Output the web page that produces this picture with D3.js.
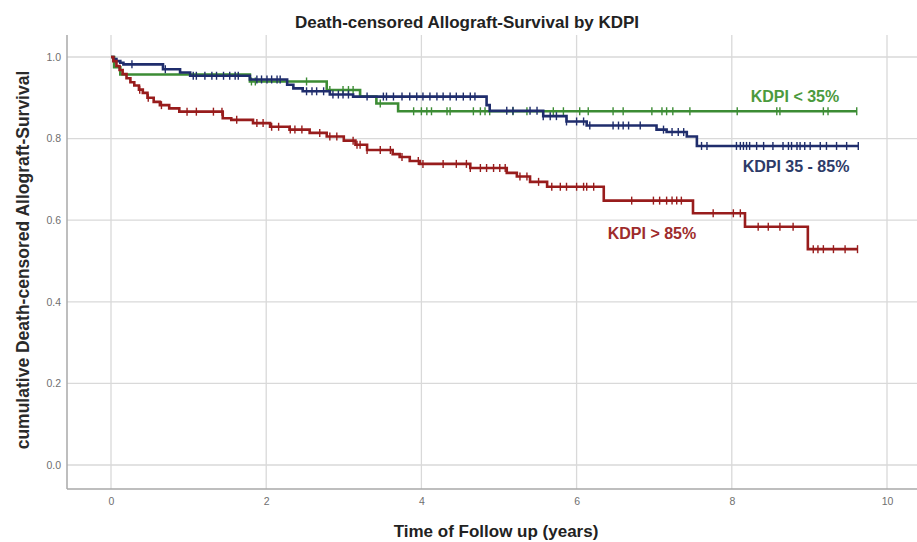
<!DOCTYPE html>
<html>
<head>
<meta charset="utf-8">
<script src="https://cdn.jsdelivr.net/npm/d3@7"></script>
<style>
  body { margin: 0; background: #fff; }
  text { font-family: "Liberation Sans", Arial, sans-serif; }
</style>
</head>
<body>
<div id="chart"></div>
<script>
/* axis ticks */
var xTicks = [0, 2, 4, 6, 8, 10]
var yTicks = [0, 0.2, 0.4, 0.6, 0.8, 1.0]

/* KDPI < 35% : event times (years) and survival after each event */
var lowTimes = [0, 0.04, 0.12, 1.79, 2.78, 3.21, 3.42, 3.70]
var lowSurv  = [1, 0.975, 0.957, 0.940, 0.919, 0.903, 0.886, 0.867]
var lowEnd = 9.61
var lowCensor = [1.81, 1.86, 2.52, 2.82, 2.99, 3.06, 3.12, 3.47, 3.90, 4.00, 4.07, 4.13, 4.33, 4.37,
  4.67, 4.76, 4.82, 4.88, 5.18, 5.36, 5.70, 5.83, 6.04, 6.15, 6.47, 6.60, 6.97, 7.10, 7.16, 7.24,
  7.46, 8.07, 8.58, 8.62, 9.18, 9.24, 9.61]

/* KDPI 35 - 85% */
var midTimes = [0, 0.03, 0.07, 0.12, 0.16, 0.67, 0.89, 1.02, 1.79, 2.27, 2.35, 2.47, 2.82, 3.12,
  4.84, 4.88, 5.57, 5.87, 6.13, 7.03, 7.16, 7.42, 7.55]
var midSurv  = [1, 0.995, 0.990, 0.986, 0.982, 0.970, 0.962, 0.954, 0.945, 0.932, 0.923, 0.916,
  0.908, 0.903, 0.882, 0.868, 0.855, 0.842, 0.832, 0.822, 0.816, 0.805, 0.782]
var midEnd = 9.63
var midCensor = [0.27, 0.70, 1.06, 1.10, 1.21, 1.30, 1.36, 1.45, 1.53, 1.60, 1.64, 1.88, 1.94, 2.01,
  2.07, 2.14, 2.18, 2.52, 2.59, 2.65, 2.74, 2.86, 2.93, 2.99, 3.06, 3.30, 3.51, 3.55, 3.64, 3.75,
  3.85, 3.94, 4.02, 4.11, 4.20, 4.28, 4.37, 4.45, 4.54, 4.63, 4.69, 5.10, 5.18, 5.40, 5.49, 5.57,
  5.66, 5.74, 5.87, 6.00, 6.09, 6.17, 6.47, 6.54, 6.60, 6.67, 6.82, 7.12, 7.23, 7.31, 7.38, 7.61,
  7.68, 8.06, 8.11, 8.15, 8.19, 8.23, 8.32, 8.41, 8.53, 8.66, 8.73, 8.77, 8.84, 8.88, 8.94, 9.01,
  9.14, 9.22, 9.35, 9.48, 9.63]

/* KDPI > 85% */
var highTimes = [0, 0.03, 0.07, 0.11, 0.15, 0.20, 0.25, 0.30, 0.36, 0.41, 0.47, 0.55, 0.63, 0.75,
  0.88, 1.44, 1.55, 1.83, 2.05, 2.30, 2.56, 2.78, 3.00, 3.15, 3.30, 3.63, 3.72, 3.85, 3.98, 4.63,
  5.10, 5.23, 5.40, 5.62, 6.35, 7.50, 8.17, 8.98]
var highSurv  = [1, 0.990, 0.978, 0.968, 0.958, 0.948, 0.938, 0.930, 0.920, 0.912, 0.900, 0.890,
  0.882, 0.874, 0.866, 0.850, 0.846, 0.838, 0.829, 0.822, 0.814, 0.805, 0.795, 0.785, 0.772,
  0.762, 0.755, 0.745, 0.738, 0.728, 0.716, 0.707, 0.694, 0.682, 0.648, 0.617, 0.584, 0.529]
var highEnd = 9.62
var highCensor = [0.37, 0.48, 0.65, 0.98, 1.10, 1.32, 1.43, 1.62, 1.88, 1.96, 2.07, 2.16, 2.31,
  2.37, 2.46, 2.69, 2.82, 2.91, 3.12, 3.17, 3.21, 3.30, 3.47, 3.60, 3.75, 3.96, 4.02, 4.28, 4.45,
  4.58, 4.63, 4.76, 4.84, 4.93, 5.01, 5.08, 5.27, 5.36, 5.51, 5.68, 5.79, 5.87, 6.00, 6.09, 6.13,
  6.22, 6.71, 6.99, 7.07, 7.16, 7.23, 7.29, 7.35, 7.76, 8.02, 8.11, 8.34, 8.47, 8.62, 8.79, 9.05,
  9.11, 9.18, 9.31, 9.46, 9.62]

var seriesNames = ["KDPI < 35%", "KDPI 35 - 85%", "KDPI > 85%"]
var seriesColors = ["#3c8c34", "#1f2d6c", "#981c1c"]
var labelColors = ["#4b9a3d", "#2d3b68", "#9e2c2c"]

/* layout */
var layout = {
  width: 917, height: 542,
  frameLeft: 67, frameTop: 35, frameBottom: 489, frameRight: 917
}

var x = d3.scaleLinear().domain([0, 10]).range([111, 887])
var y = d3.scaleLinear().domain([0, 1]).range([465, 57])

var svg = d3.select("#chart").append("svg")
  .attr("width", layout.width)
  .attr("height", layout.height)

/* grid */
svg.append("g").selectAll("line")
  .data(yTicks).enter().append("line")
  .attr("x1", layout.frameLeft).attr("x2", layout.frameRight)
  .attr("y1", function(d) { return y(d) }).attr("y2", function(d) { return y(d) })
  .style("stroke", "#d9d9d9").style("stroke-width", 1.3)

svg.append("g").selectAll("line")
  .data(xTicks).enter().append("line")
  .attr("y1", layout.frameTop).attr("y2", layout.frameBottom)
  .attr("x1", function(d) { return x(d) }).attr("x2", function(d) { return x(d) })
  .style("stroke", "#d9d9d9").style("stroke-width", 1.3)

/* frame */
svg.append("line")
  .attr("x1", layout.frameLeft).attr("x2", layout.frameLeft)
  .attr("y1", layout.frameTop).attr("y2", layout.frameBottom)
  .style("stroke", "#a8a8a8").style("stroke-width", 1.5)
svg.append("line")
  .attr("x1", layout.frameLeft).attr("x2", layout.frameRight)
  .attr("y1", layout.frameBottom).attr("y2", layout.frameBottom)
  .style("stroke", "#a8a8a8").style("stroke-width", 1.5)

/* tick labels via d3 axis */
var xAxis = d3.axisBottom(x).tickValues(xTicks).tickSize(0).tickPadding(0)
  .tickFormat(d3.format("d"))
svg.append("g")
  .attr("transform", "translate(0," + (layout.frameBottom + 9) + ")")
  .call(xAxis)
  .call(function(g) { g.select(".domain").remove() })
  .selectAll("text")
  .style("font-size", "10.5px").style("fill", "#6f6f6f")

var yAxis = d3.axisLeft(y).tickValues(yTicks).tickSize(0).tickPadding(0)
  .tickFormat(d3.format(".1f"))
svg.append("g")
  .attr("transform", "translate(" + (layout.frameLeft - 6) + ",0)")
  .call(yAxis)
  .call(function(g) { g.select(".domain").remove() })
  .selectAll("text")
  .style("font-size", "10.5px").style("fill", "#6f6f6f")

/* titles */
svg.append("text")
  .attr("x", 467).attr("y", 28)
  .attr("text-anchor", "middle")
  .style("font-size", "17px").style("font-weight", "bold").style("fill", "#222")
  .text("Death-censored Allograft-Survival by KDPI")

svg.append("text")
  .attr("x", 496).attr("y", 537)
  .attr("text-anchor", "middle")
  .style("font-size", "17px").style("font-weight", "bold").style("fill", "#222")
  .text("Time of Follow up (years)")

svg.append("text")
  .attr("transform", "translate(29,260) rotate(-90)")
  .attr("text-anchor", "middle")
  .style("font-size", "17.5px").style("font-weight", "bold").style("fill", "#2a2a2a")
  .text("cumulative Death-censored Allograft-Survival")

/* survival curves */
var allSeries = [
  { times: lowTimes, surv: lowSurv, end: lowEnd, censor: lowCensor },
  { times: midTimes, surv: midSurv, end: midEnd, censor: midCensor },
  { times: highTimes, surv: highSurv, end: highEnd, censor: highCensor }
]

var stepLine = d3.line()
  .x(function(d) { return x(d[0]) })
  .y(function(d) { return y(d[1]) })
  .curve(d3.curveStepAfter)

function survAt(s, t) {
  var i = d3.bisectRight(s.times, t) - 1
  return s.surv[Math.max(i, 0)]
}

allSeries.forEach(function(s, k) {
  var pts = s.times.map(function(t, i) { return [t, s.surv[i]] })
  pts.push([s.end, s.surv[s.surv.length - 1]])

  var g = svg.append("g").attr("class", "curve")
  g.append("path")
    .attr("d", stepLine(pts))
    .attr("fill", "none")
    .style("stroke", seriesColors[k])
    .style("stroke-width", 2.6)

  g.selectAll(".censor")
    .data(s.censor).enter().append("line")
    .attr("class", "censor")
    .attr("x1", function(d) { return x(d) }).attr("x2", function(d) { return x(d) })
    .attr("y1", function(d) { return y(survAt(s, d)) - 4 })
    .attr("y2", function(d) { return y(survAt(s, d)) + 4 })
    .style("stroke", seriesColors[k])
    .style("stroke-width", 1.4)
})

/* curve labels */
var labelPos = [[795, 102], [796, 172], [652, 239]]
svg.append("g").selectAll("text")
  .data(seriesNames).enter().append("text")
  .attr("x", function(d, i) { return labelPos[i][0] })
  .attr("y", function(d, i) { return labelPos[i][1] })
  .attr("text-anchor", "middle")
  .style("font-size", "16px").style("font-weight", "bold")
  .style("fill", function(d, i) { return labelColors[i] })
  .text(function(d) { return d })
</script>
</body>
</html>
